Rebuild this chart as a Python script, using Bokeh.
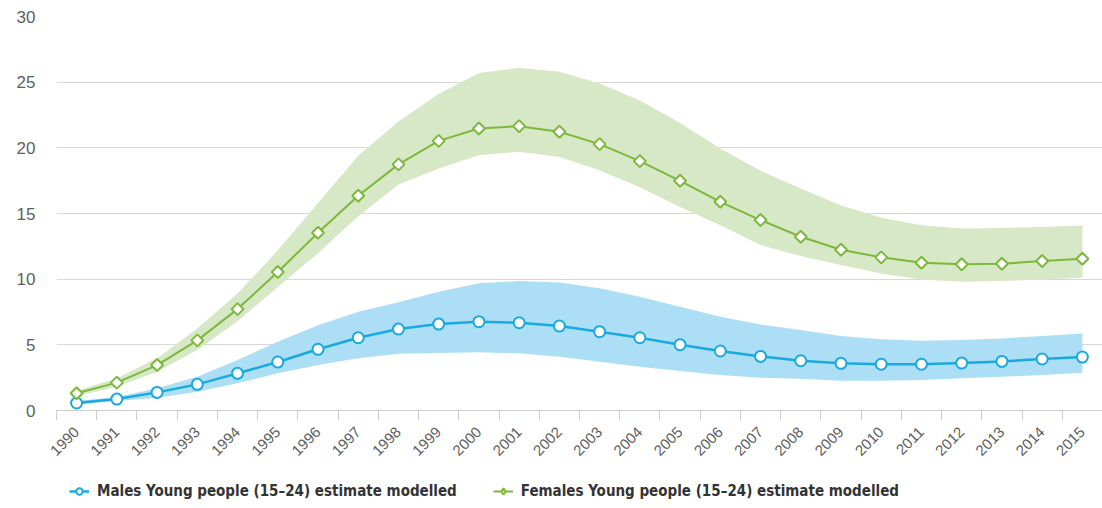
from math import pi

from bokeh.plotting import figure
from bokeh.layouts import column
from bokeh.models import (ColumnDataSource, FixedTicker, Legend, LegendItem, Range1d)
from bokeh.embed import file_html
from bokeh.resources import INLINE

# Modelled prevalence estimates, young people (15-24), with uncertainty bounds
years = list(range(1990, 2016))

male = [0.57, 0.87, 1.38, 1.99, 2.83, 3.69, 4.66, 5.54, 6.20, 6.58, 6.76, 6.68, 6.43,
        6.00, 5.54, 5.01, 4.53, 4.12, 3.79, 3.59, 3.52, 3.52, 3.61, 3.74, 3.92, 4.07]
male_hi = [0.72, 1.02, 1.69, 2.57, 3.84, 5.24, 6.50, 7.52, 8.25, 9.04, 9.68, 9.86, 9.75,
           9.30, 8.66, 7.90, 7.14, 6.55, 6.13, 5.67, 5.42, 5.31, 5.37, 5.49, 5.67, 5.87]
male_lo = [0.45, 0.72, 0.98, 1.43, 2.07, 2.83, 3.46, 3.97, 4.33, 4.38, 4.43, 4.35, 4.10,
           3.71, 3.33, 3.00, 2.70, 2.50, 2.42, 2.27, 2.27, 2.32, 2.45, 2.57, 2.70, 2.88]

female = [1.31, 2.12, 3.46, 5.34, 7.72, 10.54, 13.53, 16.35, 18.74, 20.53, 21.47, 21.65, 21.22,
          20.28, 18.99, 17.49, 15.89, 14.50, 13.23, 12.24, 11.66, 11.25, 11.13, 11.17, 11.38, 11.55]
female_hi = [1.50, 2.45, 3.97, 6.25, 8.90, 12.20, 15.80, 19.40, 22.00, 24.10, 25.70, 26.10, 25.80,
             24.90, 23.60, 21.90, 19.95, 18.25, 16.90, 15.60, 14.67, 14.10, 13.86, 13.90, 13.98, 14.09]
female_lo = [1.10, 1.81, 2.95, 4.60, 6.80, 9.40, 11.98, 14.80, 17.20, 18.43, 19.44, 19.70, 19.30,
             18.30, 17.00, 15.50, 14.10, 12.60, 11.76, 11.07, 10.44, 9.98, 9.80, 9.86, 9.98, 10.10]

y_ticks = [0, 5, 10, 15, 20, 25, 30]

male_label = "Males Young people (15\u201324) estimate modelled"
female_label = "Females Young people (15\u201324) estimate modelled"

BLUE = "#1aa9df"
BLUE_BAND = "#acdff5"
GREEN = "#7db83c"
GREEN_BAND = "#d6e8c5"

src = ColumnDataSource(dict(year=years, male=male, male_hi=male_hi, male_lo=male_lo,
                            female=female, female_hi=female_hi, female_lo=female_lo))

p = figure(width=1102, height=470, output_backend="svg", toolbar_location=None,
           x_range=(years[0] - 0.5, years[-1] + 0.5), y_range=(0, 30),
           min_border_left=56, min_border_right=0, min_border_top=16,
           min_border_bottom=60)
p.outline_line_color = None
p.background_fill_color = "white"
p.border_fill_color = "white"

# Uncertainty bands
p.varea(x="year", y1="male_lo", y2="male_hi", source=src, fill_color=BLUE_BAND, fill_alpha=1)
p.varea(x="year", y1="female_lo", y2="female_hi", source=src, fill_color=GREEN_BAND, fill_alpha=1)

# Estimate lines and markers
male_line = dict(line_color=BLUE, line_width=2.5)
male_mark = dict(marker="circle", size=11, fill_color="white", line_color=BLUE, line_width=2)
female_line = dict(line_color=GREEN, line_width=2)
female_mark = dict(marker="square", size=8.5, angle=pi / 4, fill_color="white",
                   line_color=GREEN, line_width=2)

p.line(x="year", y="male", source=src, **male_line)
p.scatter(x="year", y="male", source=src, **male_mark)
p.line(x="year", y="female", source=src, **female_line)
p.scatter(x="year", y="female", source=src, **female_mark)

# Y axis
p.yaxis.ticker = FixedTicker(ticks=y_ticks)
p.yaxis.axis_line_color = None
p.yaxis.major_tick_line_color = None
p.yaxis.minor_tick_line_color = None
p.yaxis.major_label_text_font = "Liberation Sans"
p.yaxis.major_label_text_font_size = "17px"
p.yaxis.major_label_text_color = "#606060"
p.yaxis.major_label_standoff = 15
p.ygrid.grid_line_color = "#d8d8d8"
p.ygrid.grid_line_width = 1
p.xgrid.grid_line_color = None

# X axis: labels at year centres, tick marks between years
boundaries = [y - 0.5 for y in years] + [years[-1] + 0.5]
p.xaxis.ticker = FixedTicker(ticks=years, minor_ticks=boundaries)
p.xaxis.axis_line_color = "#cccccc"
p.xaxis.major_tick_line_color = None
p.xaxis.major_tick_out = 0
p.xaxis.minor_tick_line_color = "#cccccc"
p.xaxis.minor_tick_out = 10
p.xaxis.minor_tick_in = 0
p.xaxis.major_label_orientation = pi / 4
p.xaxis.major_label_text_font = "Liberation Sans"
p.xaxis.major_label_text_font_size = "15px"
p.xaxis.major_label_text_color = "#606060"
p.xaxis.major_label_standoff = 9

# Legend strip below the chart; its sample glyphs reuse the series styles and sit
# outside the strip's visible range so only the legend swatches show
lg = figure(width=1102, height=38, output_backend="svg", toolbar_location=None,
            x_range=Range1d(0, 1), y_range=Range1d(0, 1),
            min_border_left=0, min_border_right=0, min_border_top=0, min_border_bottom=0)
lg.axis.visible = False
lg.grid.visible = False
lg.outline_line_color = None
lg.border_fill_color = "white"
lg.background_fill_color = "white"

legend_female_mark = dict(marker="diamond", size=12, fill_color="white",
                          line_color=GREEN, line_width=2)

swatch = ColumnDataSource(dict(x=years[:2], m=male[:2], f=female[:2]))
m_l = lg.line(x="x", y="m", source=swatch, **male_line)
m_s = lg.scatter(x="x", y="m", source=swatch, **male_mark)
f_l = lg.line(x="x", y="f", source=swatch, **female_line)
f_s = lg.scatter(x="x", y="f", source=swatch, **legend_female_mark)

legend = Legend(items=[LegendItem(label=male_label, renderers=[m_l, m_s]),
                       LegendItem(label=female_label, renderers=[f_l, f_s])],
                orientation="horizontal", location=(13, 8))
legend.border_line_color = None
legend.background_fill_alpha = 0
legend.label_text_font = "DejaVu Sans Condensed"
legend.label_text_font_style = "bold"
legend.label_text_font_size = "15px"
legend.label_text_color = "#333333"
legend.glyph_width = 20
legend.glyph_height = 16
legend.spacing = 36
legend.padding = 0
legend.margin = 0
legend.label_standoff = 8
lg.add_layout(legend, "center")

layout = column(p, lg, spacing=0)
open("out.html", "w").write(file_html(layout, INLINE))
